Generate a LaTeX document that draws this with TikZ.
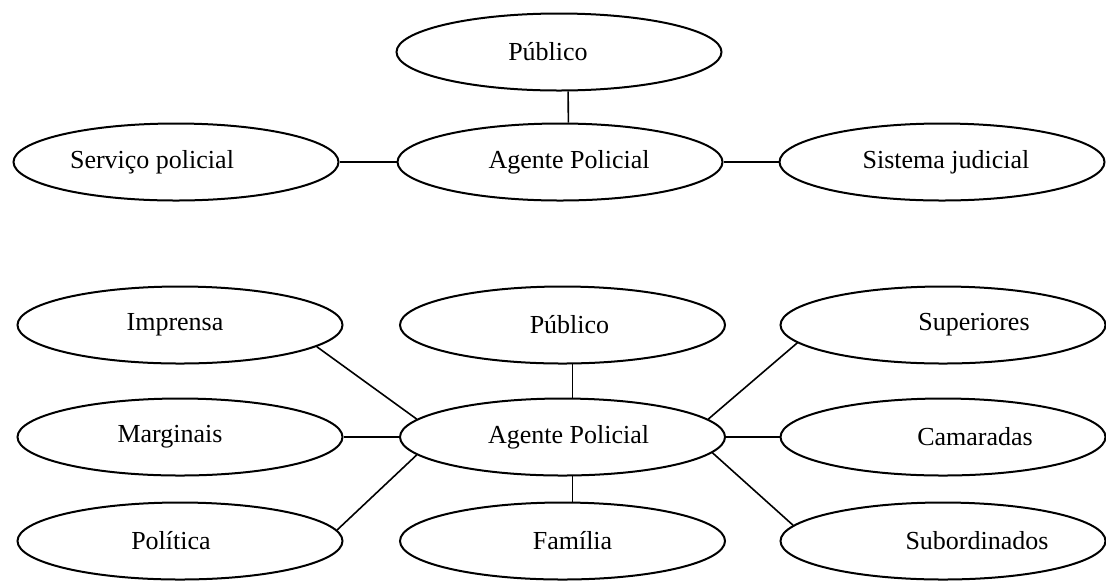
\documentclass[tikz,border=0pt]{standalone}
\usepackage{fontspec}
\setmainfont{Liberation Serif}
\usetikzlibrary{shapes.geometric}

\tikzset{
  oval/.style={ellipse, draw, line width=1pt, minimum width=162.5pt,
    minimum height=38.5pt, inner sep=0pt},
  txt/.style 2 args={label={[xshift=#1]center:#2}},
  link/.style={line width=0.8pt}
}

\begin{document}
\begin{tikzpicture}[x=0.5pt, y=-0.5pt, font=\fontsize{13}{15.6}\selectfont]
\useasboundingbox (0,0) rectangle (1106,580);

% first picture
\node [oval, txt={-5.5pt}{Público}] (pub1) at (559,52) {};
\node [oval, txt={-12pt}{Serviço policial}] (serv) at (176,162) {};
\node [oval, txt={4.5pt}{Agente Policial}] (ag1) at (560,162) {};
\node [oval, txt={2pt}{Sistema judicial}] (sist) at (942,162) {};

\draw [link] (pub1.-77) -- (ag1.78);
\draw [link] (serv.east) -- (ag1.west);
\draw [link] (ag1.east) -- (sist.west);

% second picture
\node [oval, txt={-2.5pt}{Imprensa}] (impr) at (180,325) {};
\node [oval, txt={3.5pt}{Público}] (pub2) at (562.5,325) {};
\node [oval, txt={15.5pt}{Superiores}] (sup) at (943,325) {};
\node [oval, txt={-5pt}{Marginais}] (marg) at (180,437) {};
\node [oval, txt={3pt}{Agente Policial}] (ag2) at (562.5,437) {};
\node [oval, txt={16pt}{Camaradas}] (cam) at (943,437) {};
\node [oval, txt={-4.5pt}{Política}] (pol) at (180,541) {};
\node [oval, txt={5pt}{Família}] (fam) at (562.5,541) {};
\node [oval, txt={17pt}{Subordinados}] (subo) at (943,541) {};

\draw [link] (pub2.-76) -- (ag2.76);
\draw [link] (ag2.-76) -- (fam.76);
\draw [link] (marg.east) -- (ag2.west);
\draw [link] (ag2.east) -- (cam.west);
\draw [link] (impr.-9) -- (ag2.173);
\draw [link] (pol.4) -- (ag2.187);
\draw [link] (sup.187) -- (ag2.7);
\draw [link] (subo.174) -- (ag2.-6);

\end{tikzpicture}
\end{document}
